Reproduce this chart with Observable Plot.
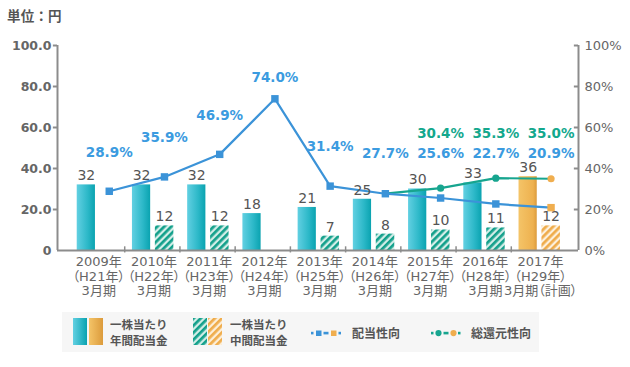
<!DOCTYPE html>
<html><head><meta charset="utf-8">
<script src="https://cdn.jsdelivr.net/npm/d3@7"></script>
<script src="https://cdn.jsdelivr.net/npm/@observablehq/plot@0.6"></script>
<style>
body{margin:0;background:#fff;font-family:"DejaVu Sans","Noto Sans CJK JP",sans-serif}
#wrap{position:relative;width:630px;height:367px;overflow:hidden}
#chart{position:absolute;left:0;top:0}
#chart text{font-feature-settings:"palt"}
#unit{position:absolute;left:7px;top:8px;font:bold 13.5px/15px "Noto Sans CJK JP";color:#555;letter-spacing:0.2px}
#legend{position:absolute;left:0;top:305px}
</style></head><body>
<div id="wrap"><div id="chart"></div><div id="unit">単位：円</div><div id="legend"></div></div>
<script>
// ---- data ----
const years = ["2009年","2010年","2011年","2012年","2013年","2014年","2015年","2016年","2017年"];
const heisei = ["（H21年）","（H22年）","（H23年）","（H24年）","（H25年）","（H26年）","（H27年）","（H28年）","（H29年）"];
const periods = ["3月期","3月期","3月期","3月期","3月期","3月期","3月期","3月期","3月期（計画）"];
const annualDividend = [32,32,32,18,21,25,30,33,36];
const interimDividend = [null,12,12,null,7,8,10,11,12];
const payoutRatio = [28.9,35.9,46.9,74.0,31.4,27.7,25.6,22.7,20.9];
const totalReturnRatio = [null,null,null,null,null,27.7,30.4,35.3,35.0];
const planned = [false,false,false,false,false,false,false,false,true];
const leftTicks = [0,20,40,60,80,100];
const rightTicks = [0,20,40,60,80,100];

// ---- table ----
const rows = years.map((y,i)=>({i, year:y, heisei:heisei[i], period:periods[i],
  annual:annualDividend[i], interim:interimDividend[i], payout:payoutRatio[i],
  total:totalReturnRatio[i], plan:planned[i]}));
const interimRows = rows.filter(d=>d.interim!=null);
const totalRows = rows.filter(d=>d.total!=null);

const BLUE="#3b93d8", BLUE_T="#3b9be0", GREEN="#17a58f", GREEN_T="#14a88d", ORANGE="#f0ae4f", AX="#8c8c8c", TXT="#666";
const X0=-0.217, X1=9.217;
const PX = d=>d.i+0.72;
const F="DejaVu Sans";

const chart = Plot.plot({
  width:630, height:305,
  marginLeft:57, marginRight:52, marginTop:45, marginBottom:55,
  x:{type:"linear", domain:[X0,X1], axis:null},
  y:{domain:[0,100], axis:null},
  marks:[
    // annual bars
    Plot.rect(rows.filter(d=>!d.plan), {x1:d=>d.i+0.14, x2:d=>d.i+0.47, y1:0, y2:"annual", fill:"url(#gTeal)"}),
    Plot.rect(rows.filter(d=>d.plan), {x1:d=>d.i+0.14, x2:d=>d.i+0.47, y1:0, y2:"annual", fill:"url(#gOrange)"}),
    // interim bars
    Plot.rect(interimRows.filter(d=>!d.plan), {x1:d=>d.i+0.555, x2:d=>d.i+0.89, y1:0, y2:"interim", fill:"url(#hTeal)"}),
    Plot.rect(interimRows.filter(d=>d.plan), {x1:d=>d.i+0.555, x2:d=>d.i+0.89, y1:0, y2:"interim", fill:"url(#hOrange)"}),
    // axes lines
    Plot.ruleX([X0, X1], {x:d=>d, y1:0, y2:100, stroke:AX, strokeWidth:2}),
    Plot.ruleY([0], {y:d=>d, x1:X0, x2:X1, stroke:AX, strokeWidth:2}),
    Plot.ruleX([1,2,3,4,5,6,7,8], {x:d=>d, y1:-1.2, y2:1.8, stroke:AX, strokeWidth:1.5}),
    // left ticks
    Plot.ruleY(leftTicks.filter(d=>d>0), {y:d=>d, x1:X0-0.075, x2:X0, stroke:AX, strokeWidth:2}),
    Plot.text(leftTicks, {x:X0, y:d=>d, text:d=>d===0?"0":d.toFixed(1), textAnchor:"end", dx:-6, fontSize:12.5, fontWeight:"bold", fill:TXT, fontFamily:F}),
    // right ticks
    Plot.ruleY(rightTicks.filter(d=>d>0), {y:d=>d, x1:X1-0.075, x2:X1, stroke:AX, strokeWidth:2}),
    Plot.text(rightTicks, {x:X1, y:d=>d, text:d=>d+"%", textAnchor:"start", dx:6, fontSize:13, fill:TXT, fontFamily:F}),
    // x labels
    Plot.text(rows, {x:d=>d.i+0.53, y:0, text:d=>`${d.year}\n${d.heisei}\n${d.period}`, lineAnchor:"top", dy:6, lineHeight:1.08, fontSize:13, fill:TXT, fontFamily:"DejaVu Sans, Noto Sans CJK JP"}),
    // lines
    Plot.line(totalRows, {x:PX, y:"total", stroke:GREEN, strokeWidth:2.2}),
    Plot.line(rows, {x:PX, y:"payout", stroke:BLUE, strokeWidth:2.2}),
    Plot.dot(totalRows.filter(d=>d.i>5), {x:PX, y:"total", r:3.6, fill:d=>d.plan?ORANGE:GREEN, stroke:null}),
    Plot.dot(rows, {x:PX, y:"payout", symbol:"square", r:4.2, fill:d=>d.plan?ORANGE:BLUE, stroke:null}),
    // bar values
    Plot.text(rows, {x:d=>d.i+0.305, y:"annual", text:d=>String(d.annual), dy:-9, fontSize:14, fill:"#555", fontFamily:F}),
    Plot.text(interimRows, {x:d=>d.i+0.72, y:"interim", text:d=>String(d.interim), dy:-9, fontSize:14, fill:"#555", fontFamily:F}),
    // ratio labels
    Plot.text(rows.filter(d=>d.i<5 && d.i!==3), {x:PX, y:"payout", text:d=>d.payout.toFixed(1)+"%", dy:-39, fontSize:13.5, fontWeight:"bold", fill:BLUE_T, fontFamily:F}),
    Plot.text(rows.filter(d=>d.i===3), {x:PX, y:"payout", text:d=>d.payout.toFixed(1)+"%", dy:-21, fontSize:13.5, fontWeight:"bold", fill:BLUE_T, fontFamily:F}),
    Plot.text(rows.filter(d=>d.i>=5), {x:PX, y:()=>47.3, text:d=>d.payout.toFixed(1)+"%", fontSize:13.5, fontWeight:"bold", fill:BLUE_T, fontFamily:F}),
    Plot.text(totalRows.filter(d=>d.i>5), {x:PX, y:()=>57, text:d=>d.total.toFixed(1)+"%", fontSize:13.5, fontWeight:"bold", fill:GREEN_T, fontFamily:F})
  ]
});
chart.style.background="transparent";
const defs = `
<linearGradient id="gTeal" x1="0" x2="1" y1="0" y2="0">
 <stop offset="0" stop-color="#62d0e2"/><stop offset="0.6" stop-color="#2cb8c8"/><stop offset="1" stop-color="#0aa3b0"/></linearGradient>
<linearGradient id="gOrange" x1="0" x2="1" y1="0" y2="0">
 <stop offset="0" stop-color="#f4c468"/><stop offset="0.8" stop-color="#eeb14f"/><stop offset="1" stop-color="#dc9b3c"/></linearGradient>
<pattern id="hTeal" patternUnits="userSpaceOnUse" width="5" height="5" patternTransform="rotate(45)">
 <rect width="5" height="5" fill="#d4eee8"/><rect width="2.7" height="5" fill="#13a08b"/></pattern>
<pattern id="hOrange" patternUnits="userSpaceOnUse" width="5" height="5" patternTransform="rotate(45)">
 <rect width="5" height="5" fill="#fdf0db"/><rect width="2.7" height="5" fill="#efac4b"/></pattern>`;
d3.select(chart).insert("defs",":first-child").html(defs);
document.getElementById("chart").appendChild(chart);

// ---- legend ----
const lf = 'font-family="Noto Sans CJK JP" font-size="12" font-weight="bold" fill="#555" dominant-baseline="central"';
const lf2 = 'font-family="Noto Sans CJK JP" font-size="11.5" font-weight="bold" fill="#555" dominant-baseline="central"';
document.getElementById("legend").innerHTML = `
<svg width="630" height="62" xmlns="http://www.w3.org/2000/svg">
<defs>
<linearGradient id="lgTeal" x1="0" x2="1"><stop offset="0" stop-color="#62d0e2"/><stop offset="1" stop-color="#0aa3b0"/></linearGradient>
<linearGradient id="lgOrange" x1="0" x2="1"><stop offset="0" stop-color="#f4c468"/><stop offset="1" stop-color="#dc9b3c"/></linearGradient>
<pattern id="lhTeal" patternUnits="userSpaceOnUse" width="5" height="5" patternTransform="rotate(45)"><rect width="5" height="5" fill="#d4eee8"/><rect width="2.7" height="5" fill="#13a08b"/></pattern>
<pattern id="lhOrange" patternUnits="userSpaceOnUse" width="5" height="5" patternTransform="rotate(45)"><rect width="5" height="5" fill="#fdf0db"/><rect width="2.7" height="5" fill="#efac4b"/></pattern>
</defs>
<rect x="62" y="7" width="477" height="40" fill="#f6f6f6"/>
<rect x="73" y="13" width="14" height="27" fill="url(#lgTeal)"/>
<rect x="89" y="13" width="14" height="27" fill="url(#lgOrange)"/>
<text x="110" y="18.5" ${lf2}>一株当たり</text>
<text x="110" y="35.4" ${lf2}>年間配当金</text>
<rect x="193" y="13" width="14" height="27" fill="url(#lhTeal)"/>
<rect x="208" y="13" width="14" height="27" fill="url(#lhOrange)"/>
<text x="230" y="18.5" ${lf2}>一株当たり</text>
<text x="230" y="35.4" ${lf2}>中間配当金</text>
<rect x="311" y="26.8" width="2.5" height="2.6" fill="${BLUE}"/>
<rect x="316" y="25.5" width="5.5" height="5.5" fill="${BLUE}"/>
<rect x="323.5" y="26.8" width="5" height="2.6" fill="${BLUE}"/>
<rect x="331" y="25.5" width="5.5" height="5.5" fill="${ORANGE}"/>
<rect x="338.5" y="26.8" width="2.5" height="2.6" fill="${BLUE}"/>
<text x="352" y="27.5" ${lf}>配当性向</text>
<rect x="431" y="26.8" width="2.5" height="2.6" fill="${GREEN}"/>
<circle cx="438.5" cy="28.1" r="3.1" fill="${GREEN}"/>
<rect x="443.5" y="26.8" width="5" height="2.6" fill="${GREEN}"/>
<circle cx="453.5" cy="28.1" r="3.1" fill="${ORANGE}"/>
<rect x="458" y="26.8" width="2.5" height="2.6" fill="${GREEN}"/>
<text x="471" y="27.5" ${lf}>総還元性向</text>
</svg>`;
</script>
</body></html>
